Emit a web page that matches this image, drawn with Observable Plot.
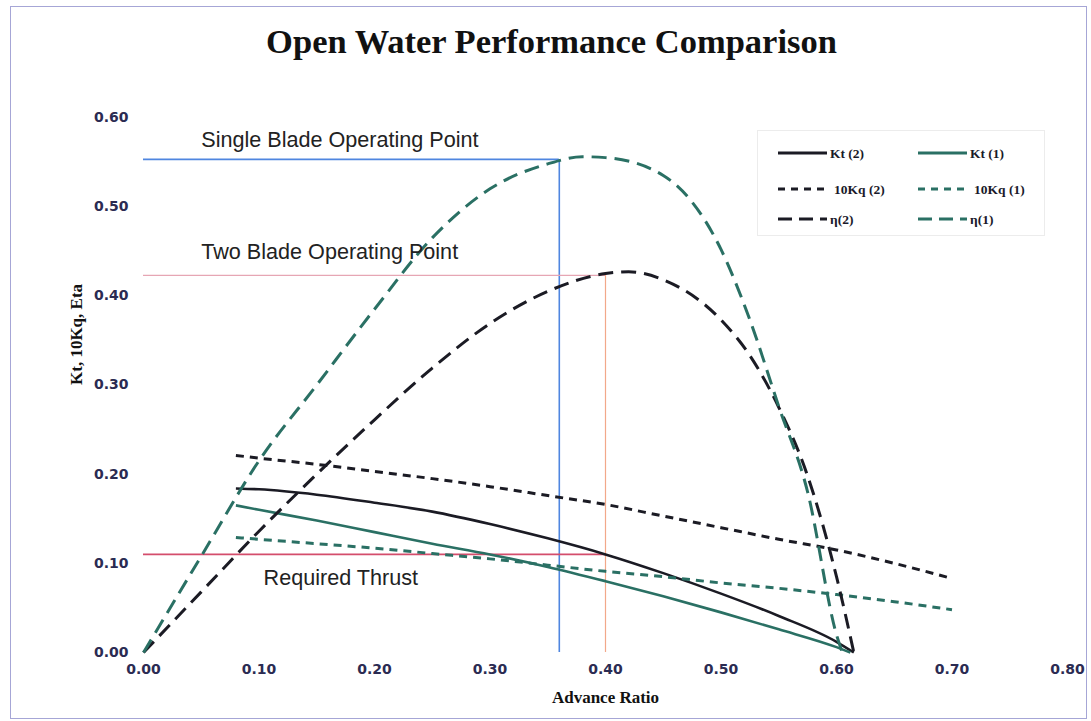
<!DOCTYPE html>
<html>
<head>
<meta charset="utf-8">
<script src="https://cdn.jsdelivr.net/npm/d3@7"></script>
<script src="https://cdn.jsdelivr.net/npm/@observablehq/plot@0.6"></script>
<style>
  html, body { margin: 0; padding: 0; background: #fff; }
  #wrap { position: relative; width: 1091px; height: 721px; overflow: hidden; background: #fff; }
  #title {
    height: 60px; box-sizing: border-box; padding-top: 24px; padding-left: 12px;
    font: bold 34.5px/34px "Liberation Serif", "Times New Roman", serif;
    color: #111; text-align: center; white-space: nowrap;
  }
  #frame {
    position: absolute; left: 10px; top: 6px; width: 1075px; height: 711px;
    border: 1px solid #a6a6d6; pointer-events: none;
  }
  #legend {
    position: absolute; left: 757px; top: 130px; width: 286px; height: 104px;
    border: 1px solid #ececec; background: #fff;
  }
  #chart svg [aria-label="x-axis tick label"],
  #chart svg [aria-label="y-axis tick label"] {
    font-family: "DejaVu Sans", Verdana, sans-serif; font-weight: bold; fill: #2b2b52;
  }
</style>
</head>
<body>
<div id="wrap">
  <div id="title">Open Water Performance Comparison</div>
  <div id="chart"></div>
  <div id="legend"></div>
  <div id="frame"></div>
</div>
<script>
// Advance ratio J and coefficients for the two propellers (1 = single blade, 2 = two blade)
const J_KT2 = [0.08, 0.10, 0.15, 0.20, 0.25, 0.30, 0.35, 0.40, 0.45, 0.50, 0.55, 0.60, 0.615];
const KT2   = [0.184, 0.183, 0.177, 0.168, 0.158, 0.144, 0.128, 0.110, 0.089, 0.066, 0.041, 0.012, 0];

const J_KT1 = [0.08, 0.10, 0.15, 0.20, 0.25, 0.30, 0.35, 0.40, 0.45, 0.50, 0.55, 0.60, 0.612];
const KT1   = [0.165, 0.160, 0.148, 0.135, 0.122, 0.110, 0.096, 0.080, 0.063, 0.045, 0.026, 0.006, 0];

const J_KQ   = [0.08, 0.10, 0.15, 0.20, 0.25, 0.30, 0.35, 0.40, 0.45, 0.50, 0.55, 0.60, 0.65, 0.70];
const KQ10_2 = [0.221, 0.218, 0.211, 0.203, 0.195, 0.186, 0.176, 0.166, 0.153, 0.140, 0.127, 0.115, 0.100, 0.083];
const KQ10_1 = [0.129, 0.127, 0.122, 0.117, 0.111, 0.105, 0.098, 0.091, 0.085, 0.078, 0.072, 0.065, 0.057, 0.048];

const J_ETA1 = [0, 0.05, 0.10, 0.15, 0.20, 0.25, 0.30, 0.35, 0.38, 0.40, 0.45, 0.50, 0.525, 0.55, 0.575, 0.60, 0.605];
const ETA1   = [0, 0.108, 0.215, 0.300, 0.385, 0.465, 0.520, 0.548, 0.556, 0.555, 0.535, 0.452, 0.373, 0.276, 0.180, 0.020, 0];

const J_ETA2 = [0, 0.05, 0.10, 0.15, 0.20, 0.25, 0.30, 0.35, 0.40, 0.42, 0.45, 0.50, 0.525, 0.55, 0.575, 0.60, 0.615];
const ETA2   = [0, 0.068, 0.136, 0.200, 0.261, 0.319, 0.369, 0.405, 0.425, 0.427, 0.418, 0.373, 0.333, 0.275, 0.198, 0.085, 0];

// Operating points and the thrust requirement
const SINGLE_J = 0.36, SINGLE_ETA = 0.553;
const TWO_J = 0.40, TWO_ETA = 0.423;
const REQ_KT = 0.11, REQ_J = 0.40;

// Axis ticks and titles
const X_TICKS = [0, 0.1, 0.2, 0.3, 0.4, 0.5, 0.6, 0.7, 0.8];
const Y_TICKS = [0, 0.1, 0.2, 0.3, 0.4, 0.5, 0.6];
const X_TITLE = "Advance Ratio";
const Y_TITLE = "Kt, 10Kq, Eta";

// Annotation labels: text and the J where each label starts
const NOTE_TEXT = ["Single Blade Operating Point", "Two Blade Operating Point", "Required Thrust"];
const NOTE_J    = [0.05, 0.05, 0.104];

const INK = "#1b1b24";
const TEAL = "#2a7064";
const LONG_DASH = "15,8";
const SHORT_DASH = "8,6";

const pairs = (xs, ys) => xs.map((x, i) => [x, ys[i]]);

const series = [
  {label: "Kt (2)",   x: J_KT2,  y: KT2,    color: INK,  dash: null,       width: 2.6, col: 0, row: 0},
  {label: "Kt (1)",   x: J_KT1,  y: KT1,    color: TEAL, dash: null,       width: 2.6, col: 1, row: 0},
  {label: "10Kq (2)", x: J_KQ,   y: KQ10_2, color: INK,  dash: SHORT_DASH, width: 3,   col: 0, row: 1},
  {label: "10Kq (1)", x: J_KQ,   y: KQ10_1, color: TEAL, dash: SHORT_DASH, width: 3,   col: 1, row: 1},
  {label: "η(2)",     x: J_ETA2, y: ETA2,   color: INK,  dash: LONG_DASH,  width: 3,   col: 0, row: 2},
  {label: "η(1)",     x: J_ETA1, y: ETA1,   color: TEAL, dash: LONG_DASH,  width: 3,   col: 1, row: 2}
];

const noteFont = {fontFamily: "'Liberation Sans', Arial, sans-serif", fontSize: 21.6, fill: "#222", textAnchor: "start"};

const chart = Plot.plot({
  width: 1091,
  height: 661,
  marginLeft: 143,
  marginRight: 24,
  marginTop: 57,
  marginBottom: 69,
  x: {domain: [0, 0.8]},
  y: {domain: [0, 0.6]},
  style: {background: "transparent", overflow: "visible"},
  marks: [
    Plot.axisX({ticks: X_TICKS, tickFormat: d3.format(".2f"), tickSize: 0, tickPadding: 12, fontSize: 14, label: null}),
    Plot.axisY({ticks: Y_TICKS, tickFormat: d3.format(".2f"), tickSize: 0, tickPadding: 15, fontSize: 14, label: null}),

    // single blade operating point
    Plot.ruleY([SINGLE_ETA], {x1: 0, x2: SINGLE_J, stroke: "#4f86e0", strokeWidth: 1.6}),
    Plot.ruleX([SINGLE_J], {y1: 0, y2: SINGLE_ETA, stroke: "#4f86e0", strokeWidth: 1.6}),
    // two blade operating point
    Plot.ruleY([TWO_ETA], {x1: 0, x2: TWO_J, stroke: "#e6a6b4", strokeWidth: 1.2}),
    Plot.ruleX([TWO_J], {y1: 0, y2: TWO_ETA, stroke: "#f2a88a", strokeWidth: 1.2}),
    // required thrust
    Plot.ruleY([REQ_KT], {x1: 0, x2: REQ_J, stroke: "#d44d6c", strokeWidth: 1.7}),

    ...series.map(s => Plot.line(pairs(s.x, s.y), {
      x: d => d[0], y: d => d[1],
      stroke: s.color, strokeWidth: s.width,
      strokeDasharray: s.dash ?? undefined,
      curve: "monotone-x", strokeLinecap: "butt"
    })),

    Plot.text([NOTE_TEXT[0]], {x: NOTE_J[0], y: SINGLE_ETA, dy: -19, ...noteFont}),
    Plot.text([NOTE_TEXT[1]], {x: NOTE_J[1], y: TWO_ETA, dy: -23, ...noteFont}),
    Plot.text([NOTE_TEXT[2]], {x: NOTE_J[2], y: REQ_KT, dy: 24, ...noteFont}),

    Plot.text([X_TITLE], {frameAnchor: "bottom", dy: 50, fontFamily: "'Liberation Serif', serif",
      fontWeight: "bold", fontSize: 17, fill: "#111"}),
    Plot.text([Y_TITLE], {frameAnchor: "left", rotate: -90, dx: -67, fontFamily: "'Liberation Serif', serif",
      fontWeight: "bold", fontSize: 17, fill: "#111"})
  ]
});
document.getElementById("chart").appendChild(chart);

// legend: two columns (two blade, single blade), one row per quantity
const leg = d3.select("#legend").append("svg").attr("width", 286).attr("height", 104);
const colX = [20, 160];
const rowY = [22, 58, 88];
const item = leg.selectAll("g").data(series).join("g")
  .attr("transform", d => `translate(${colX[d.col]},${rowY[d.row]})`);
item.append("line")
  .attr("x1", 0).attr("x2", 49).attr("y1", 0).attr("y2", 0)
  .attr("stroke", d => d.color).attr("stroke-width", 3)
  .attr("stroke-dasharray", d => d.dash === SHORT_DASH ? "7,6" : d.dash === LONG_DASH ? "14,7" : null);
item.append("text")
  .attr("x", d => d.dash === SHORT_DASH ? 56 : 52).attr("y", 0).attr("dy", "0.35em")
  .style("font", "bold 13.5px 'Liberation Serif', serif").attr("fill", "#1a1a2a")
  .text(d => d.label);
</script>
</body>
</html>
